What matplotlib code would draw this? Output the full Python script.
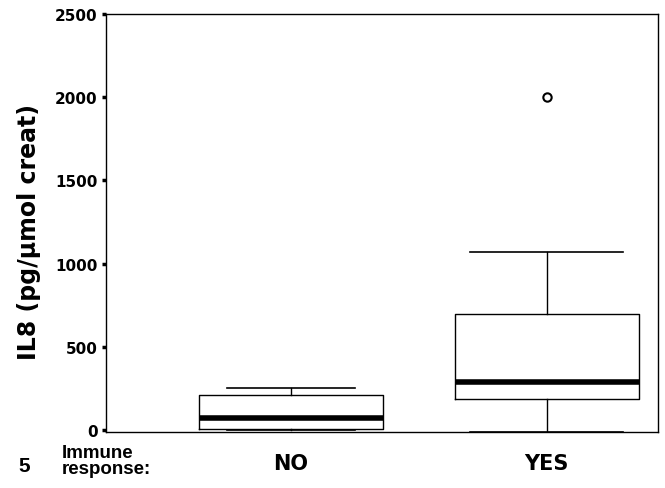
import matplotlib.pyplot as plt
from matplotlib import rcParams

rcParams['font.family'] = ['DejaVu Sans']
rcParams['font.weight'] = 'bold'

groups = ['NO', 'YES']
positions = [1, 2]
# box statistics (pg/umol creat)
whislo = [0, -10]
q1 = [6, 186]
med = [72, 288]
q3 = [210, 697]
whishi = [252, 1070]
fliers = [[], [2000]]
capw = [0.5, 0.6]

stats = []
for i in range(len(groups)):
    stats.append({'label': groups[i], 'whislo': whislo[i], 'q1': q1[i], 'med': med[i],
                  'q3': q3[i], 'whishi': whishi[i], 'fliers': fliers[i]})

fig = plt.figure(figsize=(6.65, 4.89), dpi=100)
ax = fig.add_axes([0.159, 0.1145, 0.83, 0.8548])

ax.bxp(stats, positions=positions, widths=0.72, capwidths=capw,
       boxprops=dict(color='black', linewidth=1),
       whiskerprops=dict(color='black', linewidth=1),
       capprops=dict(color='black', linewidth=1.2),
       medianprops=dict(color='black', linewidth=4),
       flierprops=dict(marker='o', markerfacecolor='white', markeredgecolor='black',
                       markersize=6, markeredgewidth=1.5))

ax.set_xlim(0.277, 2.434)
ax.set_ylim(-12, 2500)
ax.set_yticks([0, 500, 1000, 1500, 2000, 2500])
ax.tick_params(axis='y', direction='out', length=3, width=2.5, labelsize=11, pad=3)
ax.tick_params(axis='x', length=0, labelsize=15, pad=15)
ax.set_xticks(positions)
ax.set_xticklabels(groups, fontweight='bold')
for lab in ax.get_yticklabels():
    lab.set_fontweight('bold')

for s in ax.spines.values():
    s.set_linewidth(1)

ax.set_ylabel('IL8 (pg/\u03bcmol creat)', fontsize=17, fontweight='bold')
ax.yaxis.set_label_coords(-0.118, 0.48)

fig.text(0.093, 0.056, 'Immune\nresponse:', fontsize=13.5, fontweight='bold',
         family='Liberation Sans', ha='left', va='center', linespacing=0.95)
fig.text(0.027, 0.045, '5', fontsize=15, family='Liberation Sans', ha='left', va='center')

fig.savefig('out.png', dpi=100)
